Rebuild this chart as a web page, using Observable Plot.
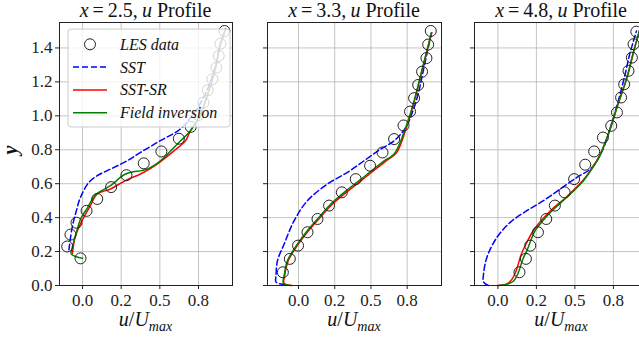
<!DOCTYPE html>
<html>
<head>
<meta charset="utf-8">
<script src="https://cdn.jsdelivr.net/npm/d3@7"></script>
<script src="https://cdn.jsdelivr.net/npm/@observablehq/plot@0.6"></script>
<style>
  html, body { margin: 0; padding: 0; background: #fff; overflow: hidden; }
  #wrap { position: relative; width: 639px; height: 339px; overflow: hidden; background: #fff;
          font-family: 'Liberation Serif', serif; }
  .panel { position: absolute; top: 0; }
  #overlay { position: absolute; left: 0; top: 0; pointer-events: none; }
  #wrap svg, #wrap svg text, #wrap svg tspan { font-family: 'Liberation Serif', serif !important; }
</style>
</head>
<body>
<div id="wrap"></div>
<script>
// ---------- shared axis data ----------
const yTicks = [0, 0.2, 0.4, 0.6, 0.8, 1.0, 1.2, 1.4];
const xTicks = [0, 0.25, 0.5, 0.75];
const xTickLabels = ["0.0", "0.2", "0.5", "0.8"];
const stations = ["2.5", "3.3", "4.8"];
const seriesNames = ["LES data", "SST", "SST-SR", "Field inversion"];
const seriesColors = ["#222", "#0000ff", "#ff0000", "#008000"];

// ---------- x = 2.5 ----------
const les25Y = [0.16, 0.23, 0.30, 0.37, 0.44, 0.51, 0.58, 0.65, 0.72, 0.79, 0.865, 0.935, 1.005, 1.078, 1.151, 1.216, 1.284, 1.353, 1.425, 1.50];
const les25U = [-0.013, -0.099, -0.078, -0.039, 0.026, 0.095, 0.185, 0.284, 0.396, 0.51, 0.623, 0.70, 0.75, 0.782, 0.81, 0.84, 0.866, 0.881, 0.892, 0.918];
const sst25Y = [0.21, 0.343, 0.44, 0.52, 0.608, 0.647, 0.686, 0.735, 0.784, 0.852, 0.922, 0.99, 1.07, 1.16, 1.25, 1.33, 1.42, 1.51];
const sst25U = [-0.088, -0.067, -0.04, -0.013, 0.041, 0.095, 0.181, 0.289, 0.375, 0.50, 0.633, 0.70, 0.76, 0.81, 0.845, 0.87, 0.89, 0.925];
const sr25Y = [0.19, 0.28, 0.35, 0.402, 0.47, 0.539, 0.569, 0.62, 0.657, 0.716, 0.80, 0.853, 0.912, 1.0, 1.1, 1.2, 1.3, 1.4, 1.51];
const sr25U = [-0.065, -0.05, -0.02, 0.008, 0.05, 0.095, 0.181, 0.28, 0.375, 0.483, 0.60, 0.666, 0.698, 0.76, 0.80, 0.835, 0.865, 0.885, 0.925];
const fi25Y = [0.16, 0.186, 0.222, 0.31, 0.392, 0.461, 0.535, 0.588, 0.657, 0.686, 0.735, 0.833, 0.912, 1.0, 1.1, 1.2, 1.3, 1.4, 1.51];
const fi25U = [0.0, -0.073, -0.067, -0.04, -0.013, 0.034, 0.084, 0.181, 0.278, 0.418, 0.504, 0.612, 0.698, 0.76, 0.80, 0.835, 0.865, 0.885, 0.925];

// ---------- x = 3.3 ----------
const les33Y = [0.078, 0.157, 0.235, 0.314, 0.392, 0.471, 0.549, 0.627, 0.706, 0.784, 0.863, 0.943, 1.025, 1.104, 1.182, 1.26, 1.34, 1.42, 1.50];
const les33U = [-0.108, -0.06, -0.003, 0.062, 0.131, 0.211, 0.299, 0.395, 0.494, 0.58, 0.66, 0.725, 0.77, 0.798, 0.826, 0.853, 0.883, 0.895, 0.913];
const sst33Y = [0.005, 0.02, 0.06, 0.147, 0.245, 0.382, 0.50, 0.598, 0.667, 0.735, 0.80, 0.853, 0.931, 1.049, 1.16, 1.245, 1.38, 1.49];
const sst33U = [-0.09, -0.155, -0.155, -0.145, -0.099, -0.03, 0.062, 0.20, 0.338, 0.453, 0.56, 0.66, 0.74, 0.798, 0.835, 0.856, 0.89, 0.918];
const sr33Y = [0.0, 0.014, 0.06, 0.147, 0.245, 0.324, 0.392, 0.48, 0.549, 0.657, 0.735, 0.78, 0.931, 1.088, 1.284, 1.49];
const sr33U = [-0.045, -0.10, -0.095, -0.07, 0.0, 0.07, 0.14, 0.235, 0.33, 0.49, 0.605, 0.675, 0.745, 0.80, 0.858, 0.92];
const fi33Y = [0.0, 0.014, 0.059, 0.147, 0.245, 0.324, 0.392, 0.48, 0.549, 0.657, 0.735, 0.775, 0.931, 1.088, 1.284, 1.49];
const fi33U = [-0.053, -0.104, -0.099, -0.076, -0.007, 0.062, 0.131, 0.223, 0.315, 0.476, 0.591, 0.66, 0.74, 0.798, 0.856, 0.918];

// ---------- x = 4.8 ----------
const les48Y = [0.078, 0.157, 0.235, 0.314, 0.392, 0.471, 0.549, 0.627, 0.712, 0.79, 0.872, 0.941, 1.02, 1.108, 1.186, 1.265, 1.343, 1.422, 1.496];
const les48U = [0.14, 0.182, 0.21, 0.26, 0.314, 0.37, 0.433, 0.495, 0.567, 0.625, 0.682, 0.736, 0.773, 0.80, 0.82, 0.848, 0.87, 0.881, 0.899];
const sst48Y = [0.0, 0.02, 0.069, 0.167, 0.284, 0.372, 0.441, 0.50, 0.569, 0.637, 0.686, 0.735, 0.82, 0.93, 1.05, 1.15, 1.26, 1.36, 1.44, 1.50];
const sst48U = [-0.061, -0.093, -0.093, -0.071, -0.006, 0.08, 0.188, 0.296, 0.405, 0.513, 0.60, 0.643, 0.69, 0.73, 0.77, 0.80, 0.83, 0.855, 0.88, 0.90];
const sr48Y = [0.0, 0.01, 0.035, 0.09, 0.18, 0.24, 0.33, 0.435, 0.522, 0.62, 0.69, 0.775, 0.922, 1.049, 1.225, 1.363, 1.504];
const sr48U = [0.0, 0.06, 0.09, 0.12, 0.15, 0.18, 0.235, 0.335, 0.445, 0.553, 0.61, 0.665, 0.729, 0.773, 0.838, 0.877, 0.92];
const fi48Y = [0.0, 0.008, 0.025, 0.07, 0.15, 0.21, 0.324, 0.39, 0.431, 0.52, 0.618, 0.686, 0.77, 0.922, 1.049, 1.225, 1.363, 1.504];
const fi48U = [0.0, 0.06, 0.10, 0.13, 0.16, 0.19, 0.242, 0.30, 0.34, 0.448, 0.556, 0.61, 0.665, 0.729, 0.773, 0.838, 0.877, 0.92];

// ---------- build ----------
const pts = (U, Y) => U.map((u, i) => ({u, y: Y[i]}));
const FONT = "'Liberation Serif', serif";

const panels = [
  {left: 0,   width: 240, ml: 59, mr: 8,  xDomain: [-0.149, 0.97],  showY: true,
   les: pts(les25U, les25Y), sst: pts(sst25U, sst25Y), sr: pts(sr25U, sr25Y), fi: pts(fi25U, fi25Y)},
  {left: 240, width: 210, ml: 27, mr: 9,  xDomain: [-0.214, 0.987], showY: false,
   les: pts(les33U, les33Y), sst: pts(sst33U, sst33Y), sr: pts(sr33U, sr33Y), fi: pts(fi33U, fi33Y)},
  {left: 450, width: 210, ml: 24, mr: 12, xDomain: [-0.152, 0.978], showY: false,
   les: pts(les48U, les48Y), sst: pts(sst48U, sst48Y), sr: pts(sr48U, sr48Y), fi: pts(fi48U, fi48Y)}
];

const wrap = document.getElementById("wrap");
const fmtY = d3.format(".1f");

panels.forEach(p => {
  const chart = Plot.plot({
    width: p.width, height: 339,
    marginLeft: p.ml, marginRight: p.mr, marginTop: 22, marginBottom: 54,
    x: {domain: p.xDomain},
    y: {domain: [0, 1.55]},
    style: {fontFamily: FONT, fontSize: "17px", color: "#222", background: "transparent", overflow: "visible"},
    marks: [
      Plot.gridX(xTicks, {stroke: "#b0b0b0", strokeOpacity: 0.75, strokeWidth: 1}),
      Plot.gridY(yTicks, {stroke: "#b0b0b0", strokeOpacity: 0.75, strokeWidth: 1}),
      Plot.line(p.sst, {x: "u", y: "y", stroke: seriesColors[1], strokeWidth: 1.5, strokeDasharray: "6,3", curve: "catmull-rom"}),
      Plot.line(p.sr, {x: "u", y: "y", stroke: seriesColors[2], strokeWidth: 1.5, curve: "catmull-rom"}),
      Plot.line(p.fi, {x: "u", y: "y", stroke: seriesColors[3], strokeWidth: 1.5, curve: "catmull-rom"}),
      Plot.dot(p.les, {x: "u", y: "y", r: 5.5, stroke: seriesColors[0], strokeWidth: 1, fill: "none"}),
      Plot.frame({stroke: "#222", strokeWidth: 1}),
      Plot.axisX({ticks: xTicks, tickFormat: d => xTickLabels[xTicks.indexOf(d)], tickSize: 4, tickPadding: 4, label: null, fontFamily: FONT}),
      Plot.axisY({ticks: yTicks, tickFormat: p.showY ? fmtY : () => "", tickSize: 4, tickPadding: 3, label: null, fontFamily: FONT})
    ]
  });
  chart.classList.add("panel");
  chart.style.left = p.left + "px";
  wrap.appendChild(chart);
});

// ---------- overlay: titles, axis labels, legend ----------
const svg = d3.create("svg").attr("id", "overlay").attr("width", 639).attr("height", 339)
  .attr("font-family", "Liberation Serif").style("fill", "#111");

panels.forEach((p, k) => {
  const cx = p.left + p.ml + (p.width - p.ml - p.mr) / 2;
  const t = svg.append("text").attr("x", cx).attr("y", 17).attr("text-anchor", "middle").attr("font-size", 20);
  t.append("tspan").attr("font-style", "italic").text("x");
  t.append("tspan").text("\u2009=\u2009" + stations[k] + ",\u2009");
  t.append("tspan").attr("font-style", "italic").text("u");
  t.append("tspan").text(" Profile");

  const xl = svg.append("text").attr("x", cx).attr("y", 326).attr("text-anchor", "middle").attr("font-size", 20);
  xl.append("tspan").attr("font-style", "italic").text("u");
  xl.append("tspan").text("/");
  xl.append("tspan").attr("font-style", "italic").text("U");
  xl.append("tspan").attr("font-style", "italic").attr("font-size", 14).attr("dy", 5).text("max");
});

svg.append("text").attr("transform", "translate(17,150) rotate(-90)").attr("text-anchor", "middle")
  .attr("font-size", 20).attr("font-weight", "bold").attr("font-style", "italic").text("y");

// legend
const lg = svg.append("g").attr("transform", "translate(68,29)");
lg.append("rect").attr("width", 162).attr("height", 98).attr("rx", 3)
  .attr("fill", "#fff").attr("fill-opacity", 0.8).attr("stroke", "#cccccc").attr("stroke-width", 1);
seriesNames.forEach((name, i) => {
  const yy = 15.3 + i * 22.8;
  if (i === 0) {
    lg.append("circle").attr("cx", 22).attr("cy", yy).attr("r", 5.5)
      .attr("fill", "none").attr("stroke", seriesColors[0]).attr("stroke-width", 1);
  } else {
    lg.append("line").attr("x1", 5).attr("x2", 39).attr("y1", yy).attr("y2", yy)
      .attr("stroke", seriesColors[i]).attr("stroke-width", 1.5)
      .attr("stroke-dasharray", i === 1 ? "6,3" : null);
  }
  lg.append("text").attr("x", 52).attr("y", yy + 5.5).attr("font-size", 16)
    .attr("font-style", "italic").text(name);
});

wrap.appendChild(svg.node());
</script>
</body>
</html>
